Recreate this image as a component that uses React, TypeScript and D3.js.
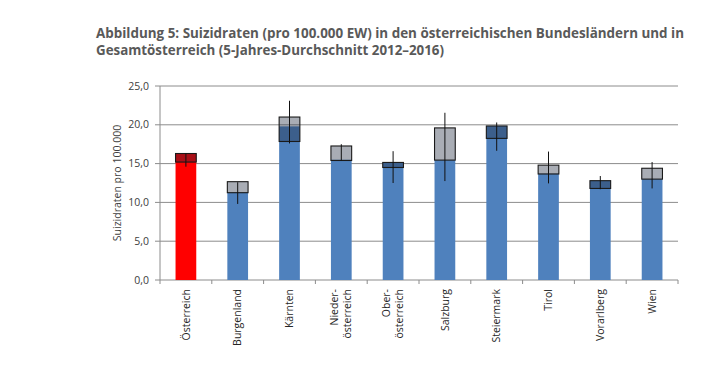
import * as React from 'react';
import * as d3 from 'd3';

// Bundesländer + Gesamtösterreich ("|" = Zeilenumbruch in der Achsenbeschriftung)
const categories = [
  'Österreich',
  'Burgenland',
  'Kärnten',
  'Nieder-|österreich',
  'Ober-|österreich',
  'Salzburg',
  'Steiermark',
  'Tirol',
  'Vorarlberg',
  'Wien',
];

// Säulenhöhe (5-Jahres-Durchschnitt)
const rate = [16.3, 11.3, 19.8, 15.5, 15.15, 15.45, 19.85, 13.7, 12.8, 13.0];
// halbtransparente Box (Spannweite)
const boxLow = [15.2, 11.25, 17.85, 15.4, 14.5, 15.45, 18.25, 13.66, 11.8, 13.0];
const boxHigh = [16.3, 12.67, 21.0, 17.27, 15.15, 19.6, 19.85, 14.8, 12.8, 14.4];
// Fehlerbalken
const errLow = [14.6, 9.8, 17.6, 15.4, 12.5, 12.75, 16.65, 12.45, 11.7, 11.8];
const errHigh = [16.3, 12.6, 23.1, 17.5, 16.6, 21.55, 20.3, 16.55, 13.4, 15.2];

const yTicks = [0, 5, 10, 15, 20, 25];

const WIDTH = 726;
const HEIGHT = 365;
const margin = { top: 86, right: 48, bottom: 85, left: 160 };

const fmt = (v: number) => v.toFixed(1).replace('.', ',');

export default function App() {
  const x = d3
    .scaleBand<string>()
    .domain(categories)
    .range([margin.left, WIDTH - margin.right])
    .paddingInner(0.6)
    .paddingOuter(0.3);
  const step = x.step();
  const y = d3.scaleLinear().domain([0, 25]).range([HEIGHT - margin.bottom, margin.top]);

  const gridColor = '#8c8c8c';
  const textColor = '#404040';
  const font = "'Open Sans', 'Noto Sans', sans-serif";

  return (
    <svg
      width={WIDTH}
      height={HEIGHT}
      style={{ position: 'absolute', left: 0, top: 0, background: '#fff' }}
      fontFamily={font}
    >
      {/* Titel */}
      <g fill="#595959" fontWeight={700} fontSize={13.5}>
        <text x={96} y={38} textLength={588} lengthAdjust="spacingAndGlyphs">
          Abbildung 5: Suizidraten (pro 100.000 EW) in den österreichischen Bundesländern und in
        </text>
        <text x={96} y={55} textLength={348} lengthAdjust="spacingAndGlyphs">
          Gesamtösterreich (5-Jahres-Durchschnitt 2012–2016)
        </text>
      </g>

      {/* Gitterlinien */}
      {yTicks.map((t) => (
        <g key={t}>
          <line
            x1={margin.left - 5}
            x2={WIDTH - margin.right}
            y1={y(t)}
            y2={y(t)}
            stroke={gridColor}
            strokeWidth={1}
          />
          <text
            x={margin.left - 11}
            y={y(t)}
            dy="0.35em"
            textAnchor="end"
            fontSize={10.5}
            fill={textColor}
          >
            {fmt(t)}
          </text>
        </g>
      ))}

      {/* y-Achse */}
      <line x1={margin.left} x2={margin.left} y1={y(25)} y2={y(0)} stroke={gridColor} />
      <text
        transform={`translate(117,${(y(0) + y(25)) / 2}) rotate(-90)`}
        textAnchor="middle"
        dy="0.35em"
        fontSize={10.5}
        fill={textColor}
      >
        Suizidraten pro 100.000
      </text>

      {/* x-Achse Teilstriche */}
      {d3.range(categories.length + 1).map((i) => (
        <line
          key={i}
          x1={margin.left + i * step}
          x2={margin.left + i * step}
          y1={y(0)}
          y2={y(0) + 4}
          stroke={gridColor}
        />
      ))}

      {/* Säulen */}
      {categories.map((c, i) => {
        const bx = x(c) as number;
        const bw = x.bandwidth();
        const cx = bx + bw / 2;
        return (
          <g key={c}>
            <rect
              x={bx}
              y={y(rate[i])}
              width={bw}
              height={y(0) - y(rate[i])}
              fill={i === 0 ? '#ff0000' : '#4f81bd'}
            />
            <rect
              x={bx}
              y={y(boxHigh[i])}
              width={bw}
              height={y(boxLow[i]) - y(boxHigh[i])}
              fill="rgba(30,40,60,0.38)"
              stroke="#1a1a1a"
              strokeWidth={1.1}
            />
            <line
              x1={cx}
              x2={cx}
              y1={y(errHigh[i])}
              y2={y(errLow[i])}
              stroke="#111"
              strokeWidth={1}
            />
          </g>
        );
      })}

      {/* Kategorienbeschriftung */}
      {categories.map((c) => {
        const lines = c.split('|');
        const cx = (x(c) as number) + x.bandwidth() / 2;
        return lines.map((ln, j) => {
          const lx = cx + (j - (lines.length - 1) / 2) * 13;
          return (
            <text
              key={c + j}
              transform={`translate(${lx},289) rotate(-90)`}
              textAnchor="end"
              dy="0.35em"
              fontSize={10.5}
              fill="#262626"
            >
              {ln}
            </text>
          );
        });
      })}
    </svg>
  );
}
